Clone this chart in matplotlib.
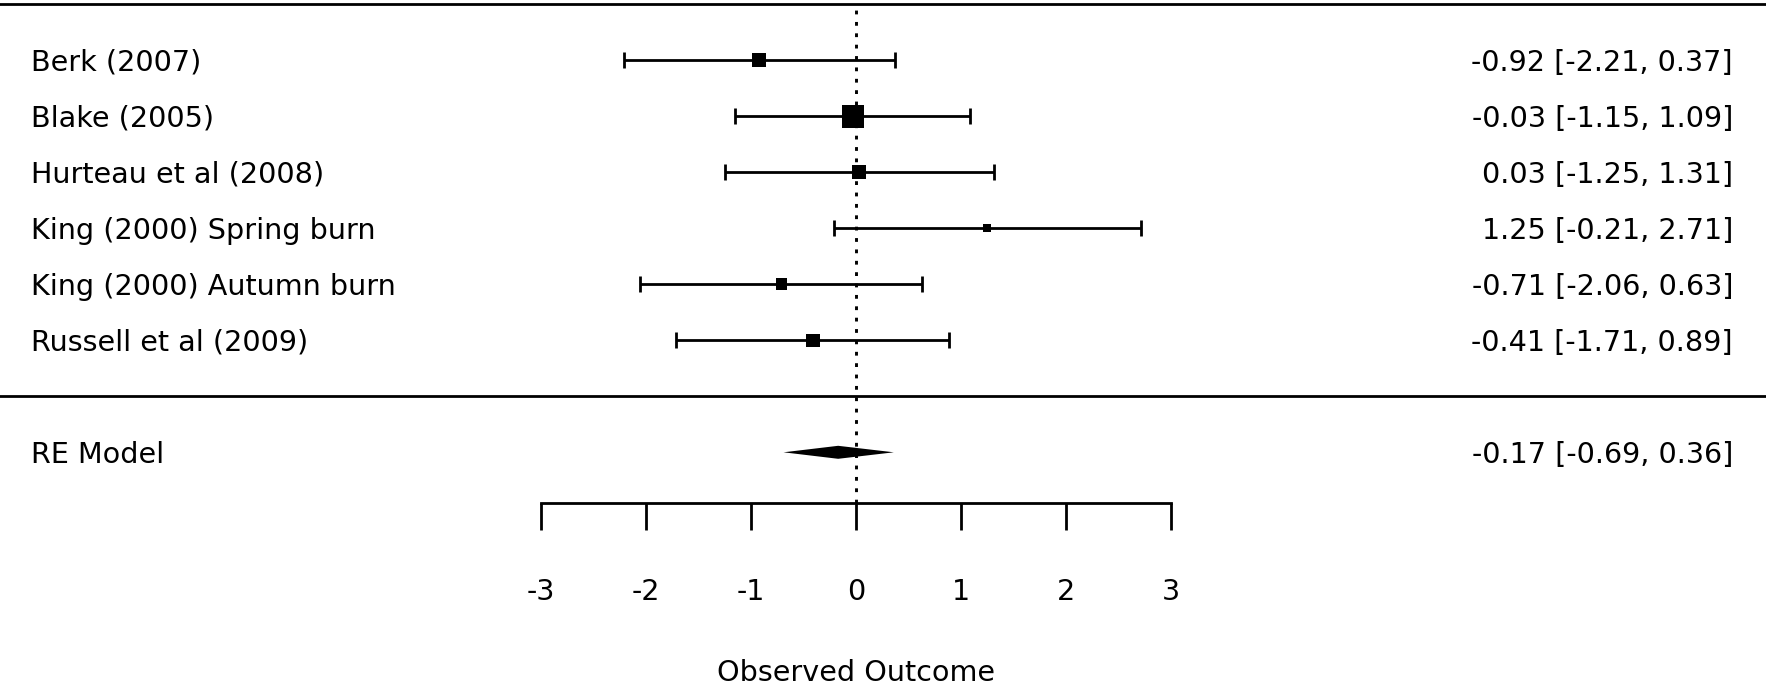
import matplotlib
matplotlib.use("Agg")
import matplotlib.pyplot as plt
import numpy as np
from matplotlib import transforms

# ---------------- data ----------------
study_labels = ["Berk (2007)", "Blake (2005)", "Hurteau et al (2008)",
                "King (2000) Spring burn", "King (2000) Autumn burn",
                "Russell et al (2009)"]
estimates = [-0.92, -0.03, 0.03, 1.25, -0.71, -0.41]
ci_lower = [-2.21, -1.15, -1.25, -0.21, -2.06, -1.71]
ci_upper = [0.37, 1.09, 1.31, 2.71, 0.63, 0.89]

model_label = "RE Model"
model_estimate = -0.17
model_lower = -0.69
model_upper = 0.36

x_ticks = [-3, -2, -1, 0, 1, 2, 3]
x_tick_labels = ["-3", "-2", "-1", "0", "1", "2", "3"]
x_label = "Observed Outcome"

# ---------------- layout ----------------
W, H, DPI = 1766, 684, 100
PX0, PXU = 856.0, 105.0        # pixel of x=0, pixels per unit
ROW0, ROWH = 396.3, 56.0       # pixel of row 0, pixels per row
FS = 20.6
LW = 2.0
CAP_PX = 20.6                  # cap height in pixels for vertical centring
plt.rcParams['font.family'] = ['DejaVu Sans']

fig = plt.figure(figsize=(W / DPI, H / DPI), dpi=DPI)
ax = fig.add_axes([0, 0, 1, 1])
ax.set_xlim(-PX0 / PXU, (W - PX0) / PXU)
ax.set_ylim((ROW0 - H) / ROWH, ROW0 / ROWH)
ax.patch.set_visible(False)

n = len(study_labels)
rows = np.arange(n, 0, -1)
model_row = -1
top_row = n + 1
axis_row = (ROW0 - 503.3) / ROWH

est = np.array(estimates)
lo = np.array(ci_lower)
hi = np.array(ci_upper)

# weights from CI widths -> box size (linear scaling, metafor style)
se = (hi - lo) / 3.92
w = 1.0 / se ** 2
frac = (w - w.min()) / (w.max() - w.min())
side_px = 8.0 + frac * (22.7 - 8.0)
side_pt = side_px * 72.0 / DPI

# lines
ax.axhline(top_row, color='black', lw=LW)
ax.axhline(0, color='black', lw=LW)
ax.vlines(0, axis_row, top_row, colors='black', lw=2.1,
          linestyles=(0, (1.3, 2.6)), zorder=1)

# study CIs
ax.errorbar(est, rows, xerr=[est - lo, hi - est], fmt='none', ecolor='black',
            elinewidth=LW, capsize=6, capthick=LW, zorder=2)
ax.scatter(est, rows, s=side_pt ** 2, marker='s', color='black',
           linewidths=0, zorder=3)

# summary diamond
h = 6.5 / ROWH
ax.fill([model_lower, model_estimate, model_upper, model_estimate],
        [model_row, model_row + h, model_row, model_row - h],
        color='black', lw=0, zorder=3)

# text columns
blend = transforms.blended_transform_factory(ax.transAxes, ax.transData)
tr = blend + transforms.ScaledTranslation(0, -CAP_PX / 2 / DPI, fig.dpi_scale_trans)
left_x = 31.0 / W
right_x = 1733.0 / W
for lab, r, e, l, u in zip(study_labels, rows, est, lo, hi):
    ax.text(left_x, r, lab, transform=tr, ha='left', va='baseline', fontsize=FS)
    ax.text(right_x, r, f"{e:.2f} [{l:.2f}, {u:.2f}]", transform=tr,
            ha='right', va='baseline', fontsize=FS)
ax.text(left_x, model_row, model_label, transform=tr, ha='left',
        va='baseline', fontsize=FS)
ax.text(right_x, model_row,
        f"{model_estimate:.2f} [{model_lower:.2f}, {model_upper:.2f}]",
        transform=tr, ha='right', va='baseline', fontsize=FS)

# x axis
for s in ['top', 'left', 'right']:
    ax.spines[s].set_visible(False)
ax.spines['bottom'].set_position(('data', axis_row))
ax.spines['bottom'].set_bounds(x_ticks[0], x_ticks[-1])
ax.spines['bottom'].set_linewidth(LW)
ax.set_xticks(x_ticks)
ax.set_xticklabels(x_tick_labels)
ax.tick_params(axis='x', direction='out', length=27.4 * 72 / DPI, width=LW,
               pad=34.3, labelsize=FS)
ax.set_yticks([])
ax.set_xlabel(x_label, fontsize=FS)
ax.xaxis.set_label_coords(0, (ROW0 - 659.0) / ROWH, transform=ax.transData)

fig.savefig("out.png", dpi=DPI)
